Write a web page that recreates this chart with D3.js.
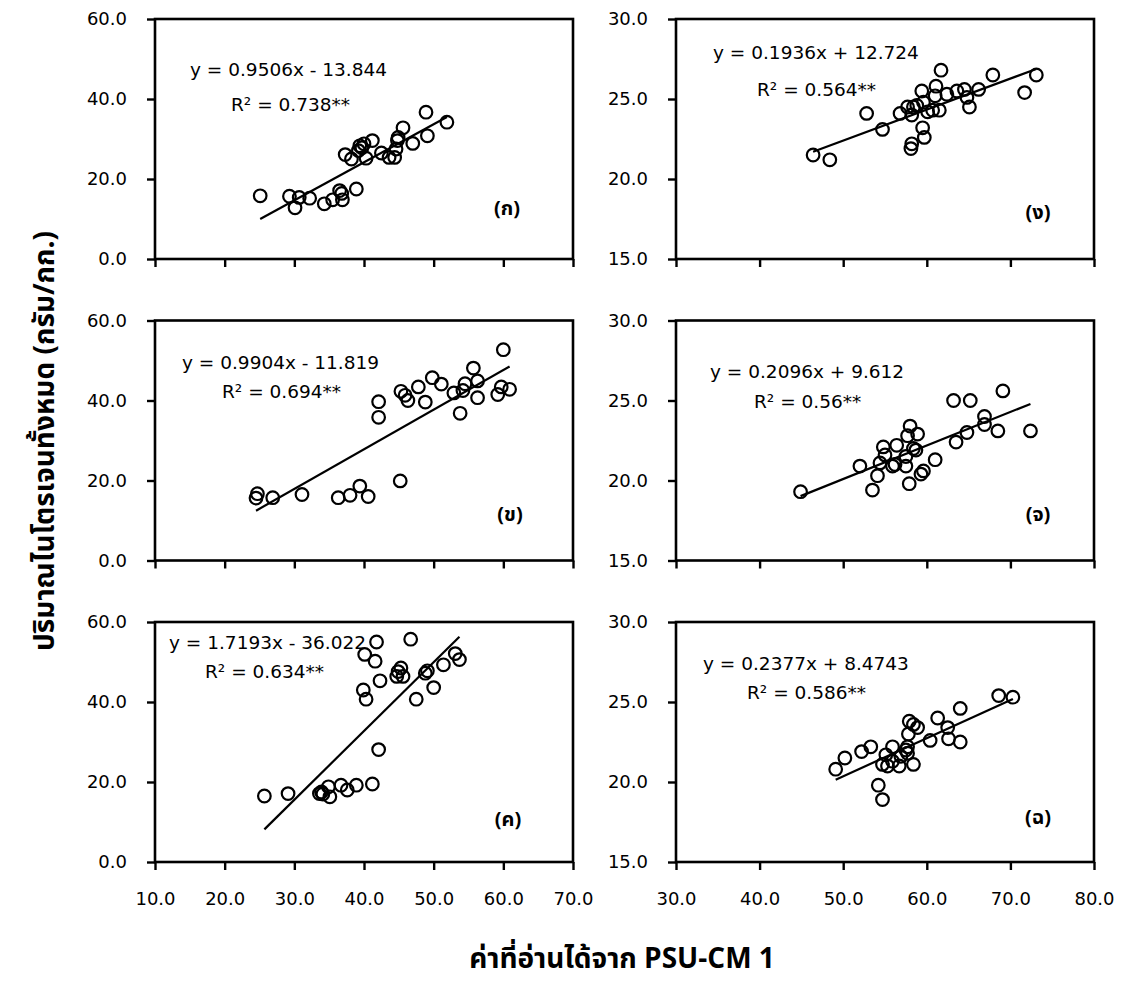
<!DOCTYPE html>
<html>
<head>
<meta charset="utf-8">
<script src="https://cdn.jsdelivr.net/npm/d3@7"></script>
<style>
  body { margin: 0; background: #fff; }
  svg text { font-family: "DejaVu Sans", Verdana, sans-serif; fill: #000; }
  svg text.thai { font-family: Tahoma, "Noto Sans Thai", "Leelawadee UI", "Noto Sans", "DejaVu Sans", sans-serif; }
</style>
</head>
<body>
<svg id="chart" width="1123" height="981"></svg>
<script>
// ---- Measured values: PSU-CM 1 reading (x) vs total nitrogen, g/kg (y) ----
const panelA_x = [25.1, 29.3, 30.7, 30.1, 32.2, 34.3, 35.5, 36.5, 36.8, 36.9, 38.9, 37.3, 38.2, 39.2, 39.4, 40.0, 40.3, 41.2, 42.5, 43.6, 44.4, 44.6, 44.8, 44.9, 45.6, 47.0, 49.1, 48.9, 51.9, 39.7];
const panelA_y = [15.8, 15.7, 15.4, 12.8, 15.2, 13.8, 14.8, 17.1, 16.4, 14.8, 17.5, 26.1, 25.0, 27.1, 28.3, 28.8, 25.2, 29.6, 26.5, 25.4, 25.4, 27.5, 29.6, 30.4, 32.8, 28.9, 30.8, 36.7, 34.2, 27.8];

const panelB_x = [24.5, 24.7, 26.9, 31.1, 36.3, 38.0, 39.4, 40.6, 45.2, 42.1, 42.1, 45.3, 45.9, 46.3, 47.8, 48.8, 49.8, 51.1, 52.9, 54.2, 53.8, 54.5, 55.7, 56.3, 56.3, 59.2, 59.7, 60.0, 60.9];
const panelB_y = [15.6, 16.7, 15.7, 16.5, 15.7, 16.3, 18.6, 16.0, 19.9, 39.7, 35.8, 42.3, 41.3, 40.0, 43.4, 39.6, 45.7, 44.1, 41.9, 42.5, 36.8, 44.2, 48.1, 44.9, 40.7, 41.5, 43.4, 52.7, 42.8];

const panelC_x = [25.7, 29.1, 33.6, 33.9, 34.9, 35.1, 34.1, 36.7, 37.6, 38.9, 41.2, 42.1, 39.9, 40.3, 40.1, 41.6, 41.8, 42.3, 44.9, 45.3, 45.6, 44.7, 46.7, 47.5, 48.8, 49.1, 50.0, 51.4, 53.1, 53.7];
const panelC_y = [16.5, 17.1, 17.1, 17.5, 18.8, 16.3, 17.0, 19.2, 18.0, 19.2, 19.5, 28.1, 43.0, 40.7, 51.9, 50.2, 55.0, 45.3, 47.6, 48.5, 46.4, 46.4, 55.7, 40.7, 47.2, 47.8, 43.6, 49.3, 52.1, 50.6];

const panelD_x = [46.4, 48.4, 52.8, 54.7, 56.8, 57.7, 58.4, 58.2, 58.2, 58.1, 58.8, 59.4, 59.6, 59.5, 59.7, 60.1, 60.7, 61.5, 61.1, 61.0, 61.7, 62.4, 63.6, 64.5, 64.8, 65.1, 66.2, 67.9, 71.7, 73.1];
const panelD_y = [21.5, 21.2, 24.1, 23.1, 24.1, 24.5, 24.5, 24.0, 22.2, 21.9, 24.6, 25.5, 24.8, 23.2, 22.6, 24.2, 24.3, 24.3, 25.8, 25.2, 26.8, 25.3, 25.5, 25.6, 25.1, 24.5, 25.6, 26.5, 25.4, 26.5];

const panelE_x = [44.9, 52.0, 53.5, 54.1, 54.4, 54.8, 55.0, 55.9, 56.2, 56.4, 57.5, 57.7, 58.0, 57.9, 58.4, 58.7, 58.9, 59.3, 59.6, 61.0, 63.2, 63.5, 65.2, 64.8, 66.9, 66.9, 68.5, 69.1, 72.4, 57.5];
const panelE_y = [19.3, 20.9, 19.4, 20.3, 21.1, 22.1, 21.6, 20.9, 21.0, 22.2, 20.9, 22.8, 23.4, 19.8, 22.0, 21.9, 22.9, 20.4, 20.6, 21.3, 25.0, 22.4, 25.0, 23.0, 24.0, 23.5, 23.1, 25.6, 23.1, 21.5];

const panelF_x = [49.1, 50.2, 52.2, 53.3, 54.2, 54.7, 54.7, 55.1, 55.3, 55.9, 55.9, 56.7, 56.9, 57.5, 57.7, 57.8, 57.9, 58.4, 58.9, 58.4, 60.4, 61.3, 62.5, 62.6, 64.0, 64.0, 68.6, 70.3, 57.7];
const panelF_y = [20.8, 21.5, 21.9, 22.2, 19.8, 18.9, 21.1, 21.7, 21.0, 22.2, 21.3, 21.0, 21.6, 22.0, 22.2, 23.0, 23.8, 23.6, 23.4, 21.1, 22.6, 24.0, 23.4, 22.7, 24.6, 22.5, 25.4, 25.3, 21.8];

// ---- Regression results printed on each panel ----
const panelLabels = ["(ก)", "(ข)", "(ค)", "(ง)", "(จ)", "(ฉ)"];
const slopes = [0.9506, 0.9904, 1.7193, 0.1936, 0.2096, 0.2377];
const intercepts = [-13.844, -11.819, -36.022, 12.724, 9.612, 8.4743];
const equationLabels = ["y = 0.9506x - 13.844", "y = 0.9904x - 11.819", "y = 1.7193x - 36.022",
                        "y = 0.1936x + 12.724", "y = 0.2096x + 9.612", "y = 0.2377x + 8.4743"];
const r2Labels = ["R² = 0.738**", "R² = 0.694**", "R² = 0.634**", "R² = 0.564**", "R² = 0.56**", "R² = 0.586**"];

// ---- Axis domains and ticks ----
const leftXTicks = [10, 20, 30, 40, 50, 60, 70];
const leftYTicks = [0, 20, 40, 60];
const rightXTicks = [30, 40, 50, 60, 70, 80];
const rightYTicks = [15, 20, 25, 30];

const xTitle = "ค่าที่อ่านได้จาก PSU-CM 1";
const yTitle = "ปริมาณไนโตรเจนทั้งหมด (กรัม/กก.)";

// ---- Layout ----
const svg = d3.select("#chart");
const panelW = 418, panelH = 240;
const colX = [155, 676];
const rowY = [19, 320.5, 622];

const panels = [
  { xs: panelA_x, ys: panelA_y, col: 0, row: 0, eq: [35, 51], r2: [76, 86], lab: [352, 189] },
  { xs: panelB_x, ys: panelB_y, col: 0, row: 1, eq: [27, 42.5], r2: [67, 71.5], lab: [355, 193.5] },
  { xs: panelC_x, ys: panelC_y, col: 0, row: 2, eq: [14, 21], r2: [50, 50], lab: [353, 197] },
  { xs: panelD_x, ys: panelD_y, col: 1, row: 0, eq: [37, 34], r2: [81, 71], lab: [362, 193] },
  { xs: panelE_x, ys: panelE_y, col: 1, row: 1, eq: [34, 51.5], r2: [78, 81.5], lab: [362, 193.5] },
  { xs: panelF_x, ys: panelF_y, col: 1, row: 2, eq: [27, 42], r2: [71, 71], lab: [362, 195] }
];

const fmt = d3.format(".1f");

panels.forEach((p, i) => {
  const xTicks = p.col === 0 ? leftXTicks : rightXTicks;
  const yTicks = p.col === 0 ? leftYTicks : rightYTicks;
  const x = d3.scaleLinear().domain(d3.extent(xTicks)).range([0, panelW]);
  const y = d3.scaleLinear().domain(d3.extent(yTicks)).range([panelH, 0]);

  const g = svg.append("g").attr("transform", `translate(${colX[p.col]},${rowY[p.row]})`);

  // frame
  g.append("rect").attr("x", 0).attr("y", 0).attr("width", panelW).attr("height", panelH)
    .attr("fill", "none").attr("stroke", "#000").attr("stroke-width", 2.6);

  // y axis
  const yAxis = d3.axisLeft(y).tickValues(yTicks).tickFormat(fmt).tickSize(8).tickPadding(20);
  const ya = g.append("g").call(yAxis);
  ya.select(".domain").remove();
  ya.selectAll("line").attr("stroke", "#000").attr("stroke-width", 2.4);
  ya.selectAll("text").attr("font-size", 18);

  // x axis (labels only on the bottom row)
  const xAxis = d3.axisBottom(x).tickValues(xTicks).tickFormat(p.row === 2 ? fmt : () => "")
    .tickSize(8).tickPadding(22);
  const xa = g.append("g").attr("transform", `translate(0,${panelH})`).call(xAxis);
  xa.select(".domain").remove();
  xa.selectAll("line").attr("stroke", "#000").attr("stroke-width", 2.4);
  xa.selectAll("text").attr("font-size", 18);

  // regression line over the observed x range
  const [x0, x1] = d3.extent(p.xs);
  const line = d3.line().x(d => x(d)).y(d => y(slopes[i] * d + intercepts[i]));
  g.append("path").attr("d", line([x0, x1])).attr("fill", "none")
    .attr("stroke", "#000").attr("stroke-width", 2.2);

  // observations
  g.selectAll("circle.pt").data(p.xs.map((v, k) => [v, p.ys[k]])).join("circle")
    .attr("class", "pt")
    .attr("cx", d => x(d[0])).attr("cy", d => y(d[1])).attr("r", 6.3)
    .attr("fill", "none").attr("stroke", "#000").attr("stroke-width", 2.2);

  // equation and R²
  g.append("text").attr("x", p.eq[0]).attr("y", p.eq[1]).attr("dy", "0.35em")
    .attr("font-size", 18.5).text(equationLabels[i]);
  g.append("text").attr("x", p.r2[0]).attr("y", p.r2[1]).attr("dy", "0.35em")
    .attr("font-size", 18.5).text(r2Labels[i]);

  // panel letter
  g.append("text").attr("class", "thai").attr("x", p.lab[0]).attr("y", p.lab[1]).attr("dy", "0.35em")
    .attr("text-anchor", "middle").attr("font-size", 20).attr("font-weight", "bold")
    .text(panelLabels[i]);
});

// axis titles
svg.append("text").attr("class", "thai").attr("x", 622).attr("y", 958).attr("dy", "0.35em")
  .attr("text-anchor", "middle").attr("font-size", 28).attr("font-weight", "bold").text(xTitle);

svg.append("text").attr("class", "thai")
  .attr("transform", "translate(44,441) rotate(-90)").attr("dy", "0.35em")
  .attr("text-anchor", "middle").attr("font-size", 28).attr("font-weight", "bold").text(yTitle);
</script>
</body>
</html>
